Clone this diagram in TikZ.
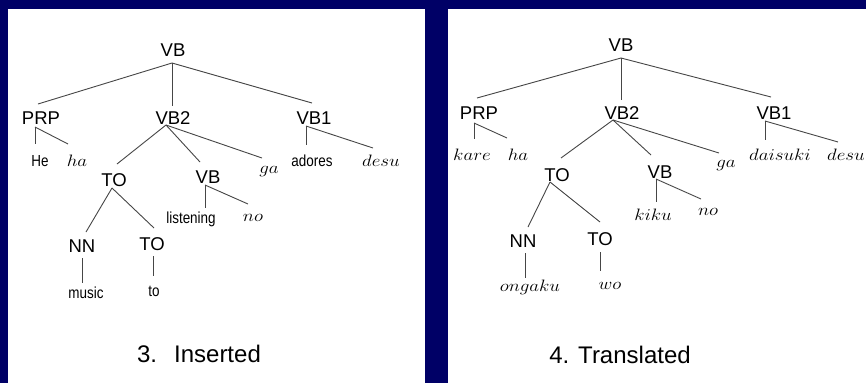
\RequirePackage{fix-cm}
\documentclass[tikz,border=0pt]{standalone}
\usepackage{fontspec}
\setmainfont{Liberation Sans}
\definecolor{navy}{RGB}{0,0,102}
\definecolor{branchgray}{RGB}{70,70,70}
% condensed sans leaf words and widened math-italic words
\newcommand\narrowword[1]{\scalebox{0.84}[1]{#1}}
\newcommand\romaji[1]{\scalebox{1.15}[1]{$#1$}}
\tikzset{
  lab/.style={font=\fontsize{18.5}{20}\selectfont, inner sep=0pt, anchor=base},
  word/.style={font=\fontsize{16}{18}\selectfont, inner sep=0pt, anchor=base},
  jp/.style={font=\fontsize{16.5}{19}\selectfont, inner sep=0pt, anchor=base},
  caption/.style={font=\fontsize{24}{28}\selectfont, inner sep=0pt, anchor=base},
  branch/.style={draw=branchgray, line width=0.9pt},
  panel/.style={fill=white, draw=none}
}
\begin{document}
\begin{tikzpicture}[x=1pt,y=-1pt]
  % backdrop and the two white panels
  \fill[navy] (0,0) rectangle (866,383);
  \useasboundingbox (0,0) rectangle (866,383);
  \fill[panel] (8,9) rectangle (425,383);
  \fill[panel] (448,9) rectangle (866,383);

  % ---------- tree 3: inserted ----------
  \node[lab] (lvb)   at (173,56)  {VB};
  \node[lab] (lprp)  at (41,124)  {PRP};
  \node[lab] (lvbb)  at (173,124) {VB2};
  \node[lab] (lvba)  at (314,124) {VB1};
  \node[word] (lhe)  at (40,166)  {\narrowword{He}};
  \node[jp]  (lha)   at (77,166)  {\romaji{ha}};
  \node[jp]  (lga)   at (269,173) {\romaji{ga}};
  \node[word] (ladores) at (312,166) {\narrowword{adores}};
  \node[jp]  (ldesu) at (381,166) {\romaji{desu}};
  \node[lab] (lto)   at (114,186) {TO};
  \node[lab] (lvbc)  at (208,183) {VB};
  \node[word] (llisten) at (191,223) {\narrowword{listening}};
  \node[jp]  (lno)   at (253,221) {\romaji{no}};
  \node[lab] (lnn)   at (82,252)  {NN};
  \node[lab] (ltob)  at (152,250) {TO};
  \node[word] (lmusic) at (86,298) {\narrowword{music}};
  \node[word] (ltoword) at (154,296) {\narrowword{to}};
  \node[caption] (lcap) at (199,362) {3.\hspace{17pt}Inserted};

  \draw[branch] ([shift={(-1,7)}]lvb.base) -- ([shift={(-3,-20)}]lprp.base);
  \draw[branch] ([shift={(-1,7)}]lvb.base) -- ([shift={(-1,-18)}]lvbb.base);
  \draw[branch] ([shift={(-1,7)}]lvb.base) -- ([shift={(-2,-21)}]lvba.base);
  \draw[branch] ([shift={(-6,3)}]lprp.base) -- ([shift={(-5,-22)}]lhe.base);
  \draw[branch] ([shift={(-6,3)}]lprp.base) -- ([shift={(-9,-22)}]lha.base);
  \draw[branch] ([shift={(-7,1)}]lvbb.base) -- ([shift={(3,-22)}]lto.base);
  \draw[branch] ([shift={(-7,1)}]lvbb.base) -- ([shift={(-8,-21)}]lvbc.base);
  \draw[branch] ([shift={(-7,1)}]lvbb.base) -- ([shift={(-7,-15)}]lga.base);
  \draw[branch] ([shift={(-8,2)}]lvba.base) -- ([shift={(-6,-21)}]ladores.base);
  \draw[branch] ([shift={(-8,2)}]lvba.base) -- ([shift={(-8,-18)}]ldesu.base);
  \draw[branch] ([shift={(-2,2)}]lto.base) -- ([shift={(4,-20)}]lnn.base);
  \draw[branch] ([shift={(-2,2)}]lto.base) -- ([shift={(2,-22)}]ltob.base);
  \draw[branch] ([shift={(-3,2)}]lvbc.base) -- ([shift={(14,-15)}]llisten.base);
  \draw[branch] ([shift={(-3,2)}]lvbc.base) -- ([shift={(-5,-17)}]lno.base);
  \draw[branch] ([shift={(0,6)}]lnn.base) -- ([shift={(-4,-15)}]lmusic.base);
  \draw[branch] ([shift={(1,6)}]ltob.base) -- ([shift={(-1,-20)}]ltoword.base);

  % ---------- tree 4: translated ----------
  \node[lab] (rvb)   at (621,51)  {VB};
  \node[lab] (rprp)  at (479,119) {PRP};
  \node[lab] (rvbb)  at (622,119) {VB2};
  \node[lab] (rvba)  at (774,119) {VB1};
  \node[jp]  (rkare) at (472,160) {\romaji{kare}};
  \node[jp]  (rha)   at (518,160) {\romaji{ha}};
  \node[jp]  (rga)   at (726,167) {\romaji{ga}};
  \node[jp]  (rdaisuki) at (780,160) {\romaji{daisuki}};
  \node[jp]  (rdesu) at (846,160) {\romaji{desu}};
  \node[lab] (rto)   at (557,181) {TO};
  \node[lab] (rvbc)  at (660,178) {VB};
  \node[jp]  (rkiku) at (653,220) {\romaji{kiku}};
  \node[jp]  (rno)   at (708,215) {\romaji{no}};
  \node[lab] (rnn)   at (523,247) {NN};
  \node[lab] (rtob)  at (600,245) {TO};
  \node[jp]  (rongaku) at (530,291) {\romaji{ongaku}};
  \node[jp]  (rwo)   at (610,289) {\romaji{wo}};
  \node[caption] (rcap) at (620,363) {4. Translated};

  \draw[branch] ([shift={(0,7)}]rvb.base) -- ([shift={(-2,-21)}]rprp.base);
  \draw[branch] ([shift={(0,7)}]rvb.base) -- ([shift={(-1,-19)}]rvbb.base);
  \draw[branch] ([shift={(0,7)}]rvb.base) -- ([shift={(-3,-22)}]rvba.base);
  \draw[branch] ([shift={(-5,4)}]rprp.base) -- ([shift={(2,-21)}]rkare.base);
  \draw[branch] ([shift={(-5,4)}]rprp.base) -- ([shift={(-11,-22)}]rha.base);
  \draw[branch] ([shift={(-9,1)}]rvbb.base) -- ([shift={(4,-23)}]rto.base);
  \draw[branch] ([shift={(-9,1)}]rvbb.base) -- ([shift={(-9,-23)}]rvbc.base);
  \draw[branch] ([shift={(-9,1)}]rvbb.base) -- ([shift={(-7,-14)}]rga.base);
  \draw[branch] ([shift={(-9,2)}]rvba.base) -- ([shift={(-15,-20)}]rdaisuki.base);
  \draw[branch] ([shift={(-9,2)}]rvba.base) -- ([shift={(-8,-18)}]rdesu.base);
  \draw[branch] ([shift={(-7,1)}]rto.base) -- ([shift={(5,-20)}]rnn.base);
  \draw[branch] ([shift={(-7,1)}]rto.base) -- ([shift={(0,-23)}]rtob.base);
  \draw[branch] ([shift={(-4,1)}]rvbc.base) -- ([shift={(3,-18)}]rkiku.base);
  \draw[branch] ([shift={(-4,1)}]rvbc.base) -- ([shift={(-7,-16)}]rno.base);
  \draw[branch] ([shift={(2,6)}]rnn.base) -- ([shift={(-5,-13)}]rongaku.base);
  \draw[branch] ([shift={(0,7)}]rtob.base) -- ([shift={(-10,-18)}]rwo.base);
\end{tikzpicture}
\end{document}
